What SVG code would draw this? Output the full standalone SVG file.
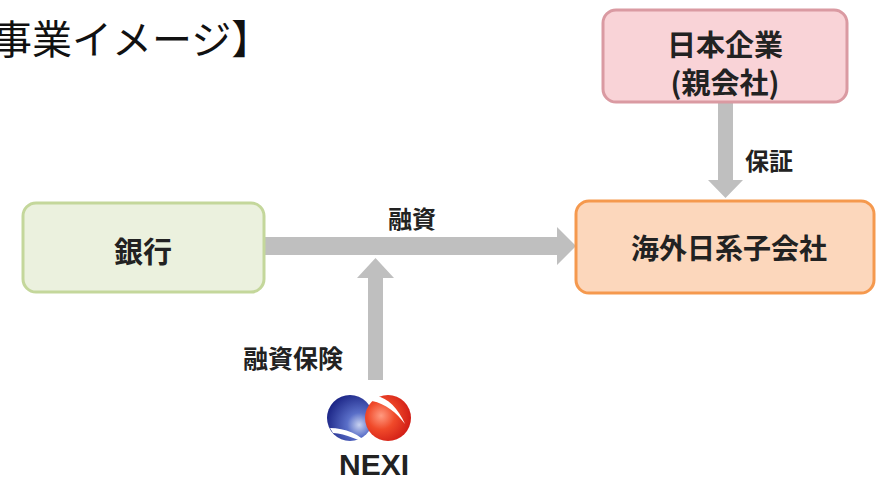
<svg xmlns="http://www.w3.org/2000/svg" width="877" height="488" viewBox="0 0 877 488">
<defs>
<style>
.lbl{font-family:"Noto Sans CJK JP","Noto Sans",sans-serif;font-weight:700;fill:#222;text-anchor:middle;dominant-baseline:central}
.box{stroke-width:3}
.arr{fill:#BFBFBF}
</style>
<radialGradient id="gb" cx="0.7" cy="0.65" r="0.75">
<stop offset="0" stop-color="#c8d2f0"/>
<stop offset="0.35" stop-color="#5a6fc8"/>
<stop offset="1" stop-color="#1a2384"/>
</radialGradient>
<radialGradient id="gr" cx="0.35" cy="0.45" r="0.75">
<stop offset="0" stop-color="#ff9a80"/>
<stop offset="0.4" stop-color="#f04a2a"/>
<stop offset="1" stop-color="#c81010"/>
</radialGradient>
</defs>
<rect width="877" height="488" fill="#fff"/>
<text x="-8" y="37" style="font-family:'Noto Sans CJK JP','Noto Sans',sans-serif;font-size:40px;fill:#111;dominant-baseline:central">事業イメージ】</text>

<g id="connectors">
<path class="arr" d="M262,237 H557 V227 L576,246 L557,265 V255 H262 Z"/>
<path class="arr" d="M368,380 V278 H357 L375.5,258 L394,278 H383 V380 Z"/>
<path class="arr" d="M718,102 V180 H708 L725.5,198 L743,180 H733 V102 Z"/>
<text class="lbl" x="412" y="217" style="font-size:24px">融資</text>
<text class="lbl" x="293" y="357" style="font-size:25px">融資保険</text>
<text class="lbl" x="769" y="159" style="font-size:24px">保証</text>
</g>

<g id="node-parent">
<rect class="box" x="603" y="10" width="244" height="92" rx="13" fill="#F9D3D7" stroke="#DA9AA2"/>
<text class="lbl" x="725" y="43" style="font-size:29px">日本企業</text>
<text class="lbl" x="725" y="81" style="font-size:29px">(親会社)</text>
</g>

<g id="node-subsidiary">
<rect class="box" x="576" y="201" width="298" height="92" rx="13" fill="#FCD7BC" stroke="#F5994E"/>
<text class="lbl" x="729" y="247" style="font-size:28px">海外日系子会社</text>
</g>

<g id="node-bank">
<rect class="box" x="23" y="203" width="241" height="89" rx="13" fill="#EBF1DE" stroke="#C4D79B"/>
<text class="lbl" x="143" y="250" style="font-size:29px">銀行</text>
</g>

<g id="node-nexi">
<circle cx="350" cy="418" r="23" fill="url(#gb)"/>
<circle cx="388" cy="418" r="23" fill="url(#gr)"/>
<path d="M376,396 C388,398 398,408 405,424 C396,412 386,404 372,401 Z" fill="#fff"/>
<path d="M330,428 C345,428 360,434 370,446 C360,440 346,434 333,433 Z" fill="#fff"/>
<text x="374" y="475" style="font-family:'Liberation Sans',Arial,sans-serif;font-weight:700;font-size:30px;fill:#222;text-anchor:middle">NEXI</text>
</g>
</svg>
